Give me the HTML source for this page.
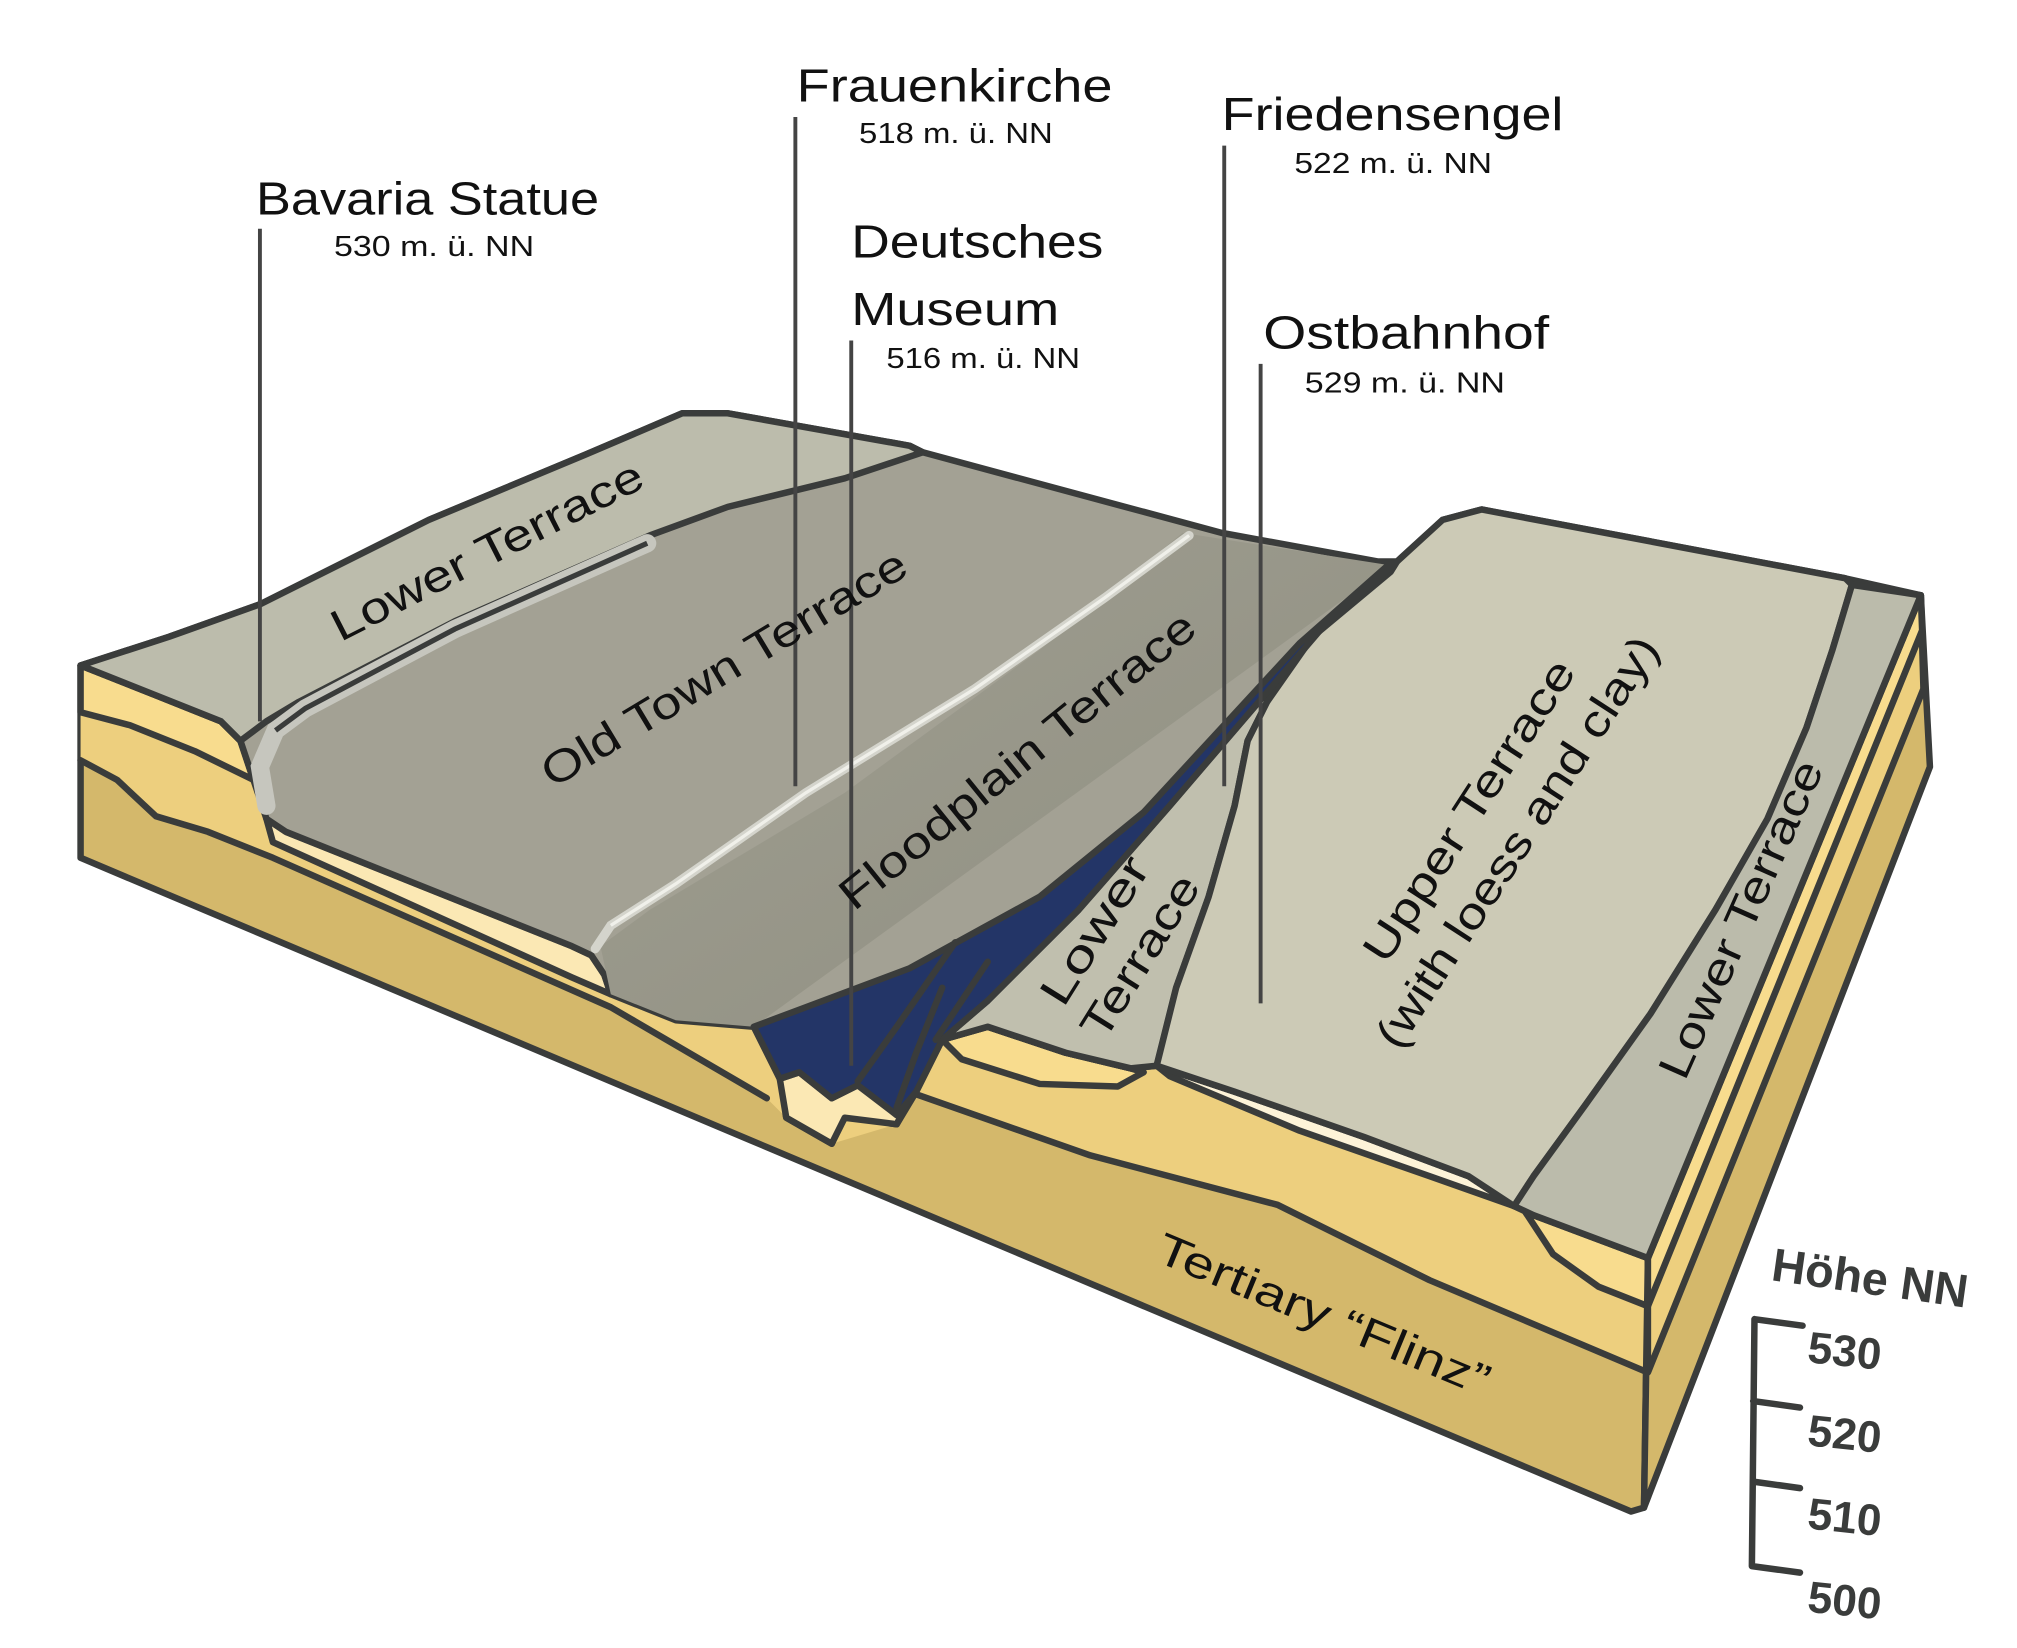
<!DOCTYPE html>
<html><head><meta charset="utf-8"><style>
html,body{margin:0;padding:0;background:#fff;}
svg{display:block;}
text{font-family:"Liberation Sans",sans-serif;fill:#111;}
</style></head><body>
<svg width="2017" height="1648" viewBox="0 0 1552 1268" preserveAspectRatio="none" xmlns="http://www.w3.org/2000/svg">
<defs>
<linearGradient id="fp" x1="0" y1="0" x2="1" y2="1">
<stop offset="0" stop-color="#a09f92"/><stop offset="1" stop-color="#8f8e80"/>
</linearGradient>
</defs>
<g stroke="#3a3c3b" stroke-width="5" stroke-linejoin="round" stroke-linecap="round">
<path fill="#d4b86b" d="M62,512 L120,535 L170,555 L185,570 L195,600 L205,630 L220,640 L300,672 L440,728 L455,735 L465,750 L470,765 L520,785 L580,790 L600,830 L605,860 L640,880 L650,860 L690,865 L705,840 L725,800 L760,790 L820,810 L870,822 L890,820 L950,840 L1050,875 L1130,905 L1165,928 L1180,935 L1268,968 L1265,1160 L1255,1163 L62,660 Z"/>
<path fill="#edcf7e" stroke="none" d="M62,512 L120,535 L170,555 L185,570 L195,600 L205,630 L220,640 L300,672 L440,728 L455,735 L465,750 L470,765 L520,785 L580,790 L600,830 L605,860 L640,880 L650,860 L690,865 L705,840 L725,800 L760,790 L820,810 L870,822 L890,820 L950,840 L1050,875 L1130,905 L1165,928 L1180,935 L1268,968 L1268,1056 L1100,985 L983,927 L839,889 L705,842 L690,865 L640,880 L605,860 L590,845 L470,775 L210,660 L160,640 L120,628 L90,600 L62,585 Z"/>
<path fill="none" d="M62,585 L90,600 L120,628 L160,640 L210,660 L470,775 L590,845 M705,842 L839,889 L983,927 L1100,985 L1268,1056"/>
<path fill="#f8dc8e" d="M62,512 L120,535 L170,555 L185,570 L195,600 L150,578 L100,558 L62,548 Z"/>
<path fill="#fbe8b4" d="M205,630 L220,640 L300,672 L440,728 L455,735 L465,750 L470,765 L440,752 L210,648 Z"/>
<path fill="#fbe8b4" d="M600,830 L605,860 L640,880 L650,860 L690,865 L700,845 L660,835 L640,845 L615,825 Z"/>
<path fill="#f8dc8e" d="M725,800 L760,790 L820,810 L870,822 L880,825 L860,836 L800,834 L740,815 Z"/>
<path fill="#fdf3d8" d="M890,820 L950,840 L1050,875 L1130,905 L1165,928 L1100,905 L1000,870 L900,828 Z"/>
<path fill="#f8dc8e" d="M1172,930 L1180,935 L1268,968 L1268,1005 L1230,990 L1195,965 Z"/>
<path fill="#d4b86b" d="M1268,968 L1478,458 L1485,590 L1265,1160 Z"/>
<path fill="#edcf7e" d="M1268,968 L1478,458 L1480,530 L1268,1056 Z"/>
<path fill="#f8dc8e" d="M1268,968 L1478,458 L1479,485 L1268,1005 Z"/>
<path fill="#a3a194" d="M62,512 L130,490 L200,465 L330,400 L450,350 L525,318 L560,318 L700,343 L710,348 L940,410 L1060,432 L1075,432 L1110,400 L1140,392 L1420,445 L1478,458 L1268,968 L1180,935 L1165,928 L1130,905 L1050,875 L950,840 L890,820 L870,822 L820,810 L760,790 L725,800 L580,790 L520,785 L470,765 L465,750 L455,735 L440,728 L300,672 L220,640 L205,630 L195,600 L185,570 L170,555 L120,535 Z"/>
<path fill="url(#fp)" stroke="none" d="M910,410 L1070,435 L580,790 L520,785 L470,765 L462,728 L500,700 L650,610 L800,500 Z"/>
<path fill="#bcbcac" d="M62,512 L130,490 L200,465 L330,400 L450,350 L525,318 L560,318 L700,343 L710,348 L650,368 L560,390 L500,412 L350,478 L230,540 L205,555 L185,570 L170,555 L120,535 Z"/>
<path fill="#c0bfae" d="M1070,440 L1010,490 L975,540 L960,570 L950,620 L930,690 L905,760 L890,820 L870,822 L820,810 L760,790 L725,800 L760,770 L830,700 L900,620 L960,550 L1020,480 Z"/>
<path fill="#cccab6" d="M1070,440 L1075,432 L1110,400 L1140,392 L1420,445 L1425,450 L1410,500 L1390,560 L1360,630 L1320,700 L1270,780 L1220,850 L1180,905 L1165,928 L1130,905 L1050,875 L950,840 L890,820 L905,760 L930,690 L950,620 L960,570 L975,540 L1010,490 Z"/>
<path fill="#bbbbab" d="M1425,450 L1478,458 L1268,968 L1180,935 L1165,928 L1180,905 L1220,850 L1270,780 L1320,700 L1360,630 L1390,560 L1410,500 Z"/>
<path fill="#233567" d="M1068,435 L1000,495 L940,560 L880,625 L800,690 L700,745 L620,775 L580,790 L600,830 L615,825 L640,845 L660,835 L690,858 L705,840 L725,800 L760,770 L830,700 L900,620 L960,550 L1020,480 L1075,432 Z"/>
<path fill="none" d="M735,725 L690,790 L660,832 M725,760 L705,810 L690,852 M760,740 L720,800"/>
</g>
<path d="M915,412 L850,460 L750,530 L620,610 L520,680 L470,712 L458,730" fill="none" stroke="#d4d4cc" stroke-width="7" stroke-linecap="round"/>
<path d="M915,412 L850,460 L750,530 L620,610 L520,680 L470,712" fill="none" stroke="#f0f0ea" stroke-width="2.5"/>
<path d="M498,418 L350,484 L235,545 L212,562 L200,590 L205,620" fill="none" stroke="#c6c6be" stroke-width="14" stroke-linecap="round"/>
<path d="M498,418 L350,484 L235,545 L212,562" fill="none" stroke="#3a3c3b" stroke-width="4"/>
<g stroke="#444" stroke-width="3">
<line x1="200" y1="176" x2="200" y2="555"/>
<line x1="612" y1="90" x2="612" y2="605"/>
<line x1="655" y1="262" x2="655" y2="820"/>
<line x1="942" y1="112" x2="942" y2="605"/>
<line x1="970" y1="280" x2="970" y2="772"/>
</g>
<g font-size="36">
<text x="197" y="165" textLength="264" lengthAdjust="spacingAndGlyphs">Bavaria Statue</text>
<text x="613" y="78" textLength="243" lengthAdjust="spacingAndGlyphs">Frauenkirche</text>
<text x="655" y="198" textLength="194" lengthAdjust="spacingAndGlyphs">Deutsches</text>
<text x="655" y="250" textLength="160" lengthAdjust="spacingAndGlyphs">Museum</text>
<text x="940" y="100" textLength="263" lengthAdjust="spacingAndGlyphs">Friedensengel</text>
<text x="972" y="268" textLength="220" lengthAdjust="spacingAndGlyphs">Ostbahnhof</text>
</g>
<g font-size="22">
<text x="257" y="197" textLength="154" lengthAdjust="spacingAndGlyphs">530 m. ü. NN</text>
<text x="661" y="110" textLength="149" lengthAdjust="spacingAndGlyphs">518 m. ü. NN</text>
<text x="682" y="283" textLength="149" lengthAdjust="spacingAndGlyphs">516 m. ü. NN</text>
<text x="996" y="133" textLength="152" lengthAdjust="spacingAndGlyphs">522 m. ü. NN</text>
<text x="1004" y="302" textLength="154" lengthAdjust="spacingAndGlyphs">529 m. ü. NN</text>
</g>
<g font-size="34" text-anchor="middle">
<text transform="translate(380,434) rotate(-27)" textLength="265" lengthAdjust="spacingAndGlyphs">Lower Terrace</text>
<text transform="translate(563,524) rotate(-31)" textLength="322" lengthAdjust="spacingAndGlyphs">Old Town Terrace</text>
<text transform="translate(790,594) rotate(-39)" textLength="342" lengthAdjust="spacingAndGlyphs">Floodplain Terrace</text>
<text transform="translate(852,722) rotate(-58)" textLength="128" lengthAdjust="spacingAndGlyphs">Lower</text>
<text transform="translate(887,742) rotate(-58)" textLength="142" lengthAdjust="spacingAndGlyphs">Terrace</text>
<text transform="translate(1140,630) rotate(-57)" textLength="270" lengthAdjust="spacingAndGlyphs">Upper Terrace</text>
<text transform="translate(1177,654) rotate(-57)" textLength="370" lengthAdjust="spacingAndGlyphs">(with loess and clay)</text>
<text transform="translate(1350,712) rotate(-66)" textLength="264" lengthAdjust="spacingAndGlyphs">Lower Terrace</text>
<text transform="translate(1014,1022) rotate(22.5)" textLength="274" lengthAdjust="spacingAndGlyphs">Tertiary “Flinz”</text>
</g>
<g font-weight="bold">
<text x="1362" y="985" font-size="36" transform="rotate(8 1362 985)" style="fill:#3a3c3b">Höhe NN</text>
<text x="1390" y="1048" font-size="34" transform="rotate(6 1390 1048)" style="fill:#3a3c3b">530</text>
<text x="1390" y="1112" font-size="34" transform="rotate(6 1390 1112)" style="fill:#3a3c3b">520</text>
<text x="1390" y="1176" font-size="34" transform="rotate(6 1390 1176)" style="fill:#3a3c3b">510</text>
<text x="1390" y="1240" font-size="34" transform="rotate(6 1390 1240)" style="fill:#3a3c3b">500</text>
</g>
<g stroke="#3a3c3b" stroke-width="5" stroke-linecap="round" fill="none">
<path d="M1350,1015 L1348,1205 M1350,1015 L1387,1020 M1349,1078 L1385,1083 M1349,1140 L1385,1145 M1348,1205 L1385,1210"/>
</g>
</svg>
</body></html>
